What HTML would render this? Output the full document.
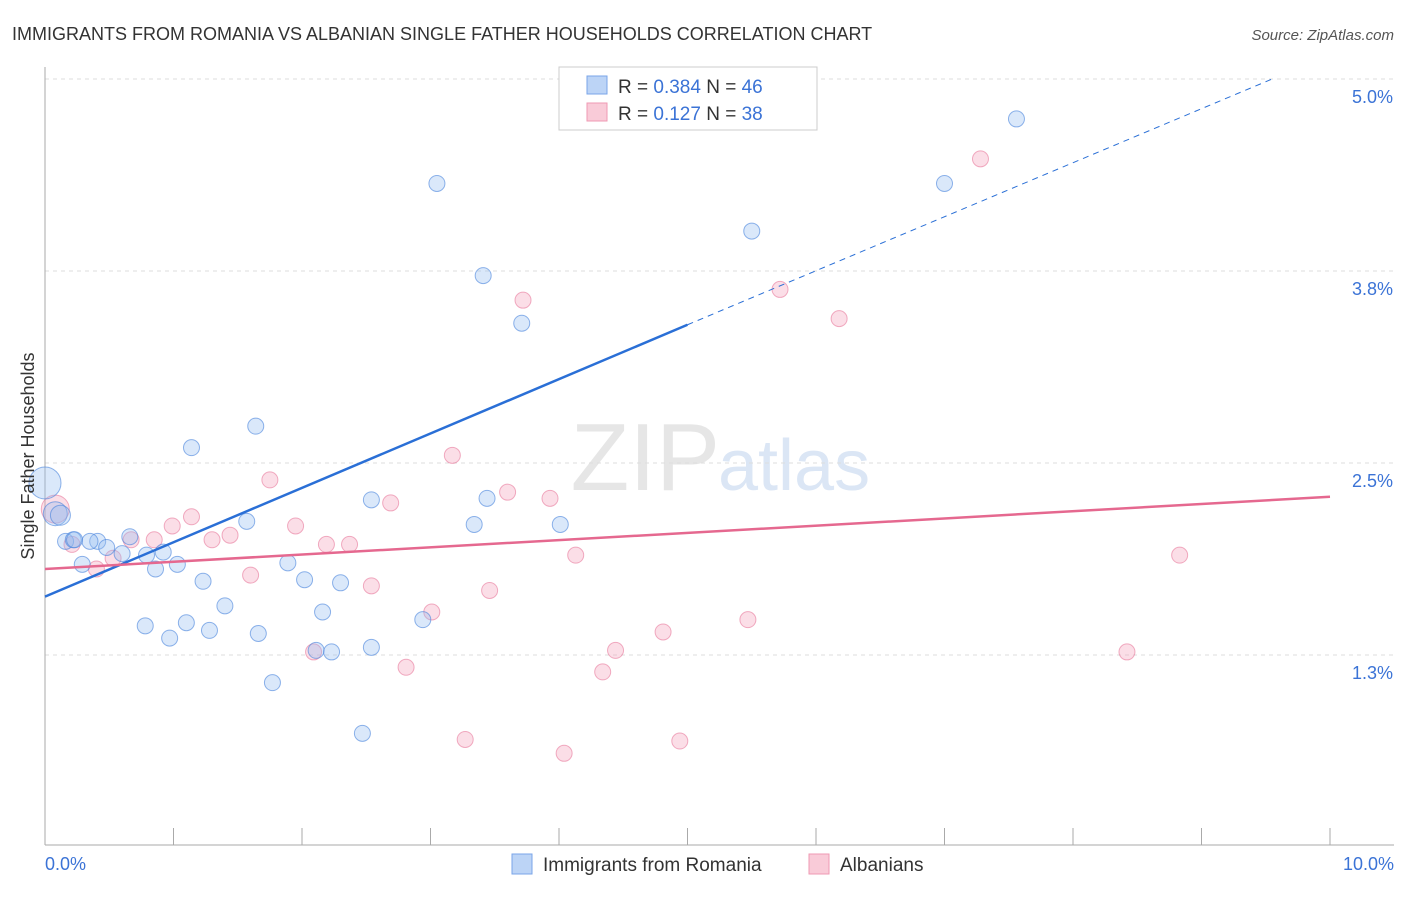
<!DOCTYPE html>
<html><head><meta charset="utf-8">
<style>
body{margin:0;background:#fff;font-family:"Liberation Sans",sans-serif;}
svg text{font-family:"Liberation Sans",sans-serif;}
</style></head>
<body>
<svg id="chart" width="1406" height="892" xmlns="http://www.w3.org/2000/svg">
<text x="12" y="40" font-size="18" fill="#333">IMMIGRANTS FROM ROMANIA VS ALBANIAN SINGLE FATHER HOUSEHOLDS CORRELATION CHART</text>
<text x="1394" y="40" font-size="15" fill="#555" text-anchor="end" font-style="italic">Source: ZipAtlas.com</text>
<text x="720" y="490" font-size="96" fill="#e6e6e6" text-anchor="end" font-family="Liberation Serif">ZIP</text>
<text x="718" y="490" font-size="72" fill="#dbe6f5">atlas</text>
<g id="grid"></g>
<g id="marks"></g>
<text transform="translate(34,456) rotate(-90)" font-size="18" fill="#333" text-anchor="middle">Single Father Households</text>
<text x="45" y="870" font-size="18" fill="#3b73d6">0.0%</text>
<text x="1394" y="870" font-size="18" fill="#3b73d6" text-anchor="end">10.0%</text>
<g>
<rect x="559" y="67" width="258" height="63" fill="#fff" stroke="#ccc"/>
<rect x="587" y="76" width="20" height="18" fill="#bcd4f6" stroke="#7aa5e8"/>
<rect x="587" y="103" width="20" height="18" fill="#f9cbd8" stroke="#ef9ab3"/>
<text x="618" y="93" font-size="19" fill="#333">R = <tspan fill="#3b73d6">0.384</tspan>   N = <tspan fill="#3b73d6">46</tspan></text>
<text x="618" y="120" font-size="19" fill="#333">R =  <tspan fill="#3b73d6">0.127</tspan>   N = <tspan fill="#3b73d6">38</tspan></text>
</g>
<g>
<rect x="512" y="854" width="20" height="20" fill="#bcd4f6" stroke="#7aa5e8"/>
<text x="543" y="871" font-size="19" fill="#333">Immigrants from Romania</text>
<rect x="809" y="854" width="20" height="20" fill="#f9cbd8" stroke="#ef9ab3"/>
<text x="840" y="871" font-size="19" fill="#333">Albanians</text>
</g>
</svg>
<script>
const yTicks=[1.25,2.5,3.75,5.0];
const yTickLabels=["1.3%","2.5%","3.8%","5.0%"];
const blueX=[7.56,7.0,3.05,5.5,3.41,3.71,1.64,1.14,3.44,2.54,4.01,3.34,1.57,0.16,0.41,0.35,0.22,0.48,0.66,0.79,1.03,0.29,0.86,0.92,0.6,2.02,2.3,1.89,1.23,1.4,0.78,2.16,2.94,1.1,1.28,1.66,0.97,2.11,2.23,2.54,1.77,2.47,0.0,0.08,0.12,0.23];
const blueY=[4.74,4.32,4.32,4.01,3.72,3.41,2.74,2.6,2.27,2.26,2.1,2.1,2.12,1.99,1.99,1.99,2.0,1.95,2.02,1.9,1.84,1.84,1.81,1.92,1.91,1.74,1.72,1.85,1.73,1.57,1.44,1.53,1.48,1.46,1.41,1.39,1.36,1.28,1.27,1.3,1.07,0.74,2.37,2.17,2.16,2.0];
const blueR=[8,8,8,8,8,8,8,8,8,8,8,8,8,8,8,8,8,8,8,8,8,8,8,8,8,8,8,8,8,8,8,8,8,8,8,8,8,8,8,8,8,8,16,12,10,8];
const pinkX=[7.28,5.72,3.72,6.18,3.17,1.75,3.6,3.93,2.69,1.14,0.99,1.95,1.44,1.3,0.67,0.85,2.19,2.37,0.21,0.53,0.4,4.13,8.83,1.6,2.54,3.46,3.01,5.47,4.81,4.44,2.09,8.42,2.81,4.34,3.27,4.94,4.04,0.08];
const pinkY=[4.48,3.63,3.56,3.44,2.55,2.39,2.31,2.27,2.24,2.15,2.09,2.09,2.03,2.0,2.0,2.0,1.97,1.97,1.97,1.88,1.81,1.9,1.9,1.77,1.7,1.67,1.53,1.48,1.4,1.28,1.27,1.27,1.17,1.14,0.7,0.69,0.61,2.2];
const pinkR=[8,8,8,8,8,8,8,8,8,8,8,8,8,8,8,8,8,8,8,8,8,8,8,8,8,8,8,8,8,8,8,8,8,8,8,8,8,14];
const blueTrend=[0.0,1.63,5.0,3.4,9.55,5.0];
const pinkTrend=[0.0,1.81,10.0,2.28];
const xs=v=>45+v*128.5;
const ys=v=>79+(5-v)*153.6;
const NS="http://www.w3.org/2000/svg";
const g=document.getElementById('grid'), m=document.getElementById('marks');
function mk(tag,attrs,parent){const e=document.createElementNS(NS,tag);for(const k in attrs)e.setAttribute(k,attrs[k]);parent.appendChild(e);return e;}
yTicks.forEach((t,i)=>{
 const l=mk('line',{x1:45,x2:1394,y1:ys(t),y2:ys(t),stroke:'#ddd','stroke-dasharray':'4,4'},g);
 
 
 const tx=mk('text',{x:1393,y:ys(t)+24,'font-size':18,fill:'#3b73d6','text-anchor':'end'},g);
 tx.textContent=yTickLabels[i];
 
 
});
const ax=mk('line',{x1:45,x2:45,y1:67,y2:845,stroke:'#aaa'},g);


const bx=mk('line',{x1:45,x2:1394,y1:845,y2:845,stroke:'#aaa'},g);


for(let i=0;i<=10;i++){
 const t=mk('line',{x1:xs(i),x2:xs(i),y1:828,y2:845,stroke:'#aaa'},g);
 
 
}
pinkX.forEach((x,i)=>{
 const c=mk('circle',{cx:xs(x),cy:ys(pinkY[i]),r:pinkR[i],fill:'rgba(244,160,186,0.35)',stroke:'rgba(232,120,155,0.6)'},m);
 
 
});
blueX.forEach((x,i)=>{
 const c=mk('circle',{cx:xs(x),cy:ys(blueY[i]),r:blueR[i],fill:'rgba(150,190,240,0.35)',stroke:'rgba(70,130,220,0.6)'},m);
 
 
});
const b1=mk('line',{x1:xs(blueTrend[0]),y1:ys(blueTrend[1]),x2:xs(blueTrend[2]),y2:ys(blueTrend[3]),stroke:'#2a6fd6','stroke-width':2.5},m);


const b2=mk('line',{x1:xs(blueTrend[2]),y1:ys(blueTrend[3]),x2:xs(blueTrend[4]),y2:ys(blueTrend[5]),stroke:'#2a6fd6','stroke-width':1,'stroke-dasharray':'6,5'},m);


const p1=mk('line',{x1:xs(pinkTrend[0]),y1:ys(pinkTrend[1]),x2:xs(pinkTrend[2]),y2:ys(pinkTrend[3]),stroke:'#e5688f','stroke-width':2.5},m);


</script>
</body></html>
